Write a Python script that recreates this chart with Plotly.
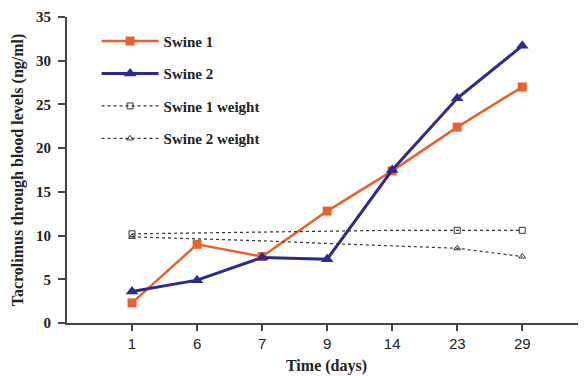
import plotly.graph_objects as go

days = ["1", "6", "7", "9", "14", "23", "29"]
swine1 = [2.3, 9.0, 7.6, 12.8, 17.4, 22.4, 27.0]
swine2 = [3.6, 4.9, 7.5, 7.3, 17.5, 25.7, 31.7]
swine1_weight = [10.2, 10.3, 10.4, 10.45, 10.6, 10.6, 10.6]
swine2_weight = [9.85, 9.65, 9.4, 9.1, 8.85, 8.55, 7.6]
weight_marked = [True, False, False, False, False, True, True]

ORANGE = "#E8612C"
BLUE = "#2D2A8E"
GREY = "#333333"

serif = "Liberation Serif"
sans = "Liberation Sans"

fig = go.Figure()
fig.add_trace(go.Scatter(
    x=days, y=swine1, name="Swine 1", mode="lines+markers",
    line=dict(color=ORANGE, width=2.5),
    marker=dict(symbol="square", size=9, color=ORANGE),
    legendgroup="a",
))
fig.add_trace(go.Scatter(
    x=days, y=swine2, name="Swine 2", mode="lines+markers",
    line=dict(color=BLUE, width=3),
    marker=dict(symbol="triangle-up", size=11, color=BLUE),
    legendgroup="b",
))
mc = [GREY if m else "rgba(0,0,0,0)" for m in weight_marked]
fig.add_trace(go.Scatter(
    x=days, y=swine1_weight, name="Swine 1 weight", mode="lines+markers",
    line=dict(color=GREY, width=1.2, dash="dot"),
    marker=dict(symbol="square-open", size=6, color=mc, line=dict(color=mc, width=1)),
    legendgroup="c",
))
fig.add_trace(go.Scatter(
    x=days, y=swine2_weight, name="Swine 2 weight", mode="lines+markers",
    line=dict(color=GREY, width=1.2, dash="dot"),
    marker=dict(symbol="triangle-up-open", size=6, color=mc, line=dict(color=mc, width=1)),
    legendgroup="d",
))

# the page body has an 8px default margin, so the figure is 8px smaller
fig.update_layout(
    width=578, height=368,
    margin=dict(l=59, r=0, t=9, b=53),
    paper_bgcolor="white", plot_bgcolor="white",
    showlegend=True,
    legend=dict(
        x=0.057, y=0.975, xanchor="left", yanchor="top",
        font=dict(family=serif, size=15, color="#222"),
        itemwidth=57, traceorder="grouped", tracegroupgap=10,
        bgcolor="rgba(0,0,0,0)",
    ),
    xaxis=dict(
        type="category", range=[-1, 6.98],
        showgrid=False, zeroline=False,
        showline=True, linecolor="#444", linewidth=2,
        ticks="outside", ticklen=6, tickwidth=1.5, tickcolor="#444",
        tickfont=dict(family=sans, size=15, color="#222"),
        title=dict(text="<b>Time (days)</b>", font=dict(family=serif, size=16, color="#222"), standoff=9),
    ),
    yaxis=dict(
        range=[0, 35], dtick=5,
        showgrid=False, zeroline=False,
        showline=True, linecolor="#444", linewidth=2,
        ticks="outside", ticklen=7, tickwidth=1.5, tickcolor="#444",
        ticklabelstandoff=4,
        tickfont=dict(family=serif, size=15, color="#222", weight="bold"),
        title=dict(text="<b>Tacrolimus through blood levels (ng/ml)</b>", font=dict(family=serif, size=16, color="#222"), standoff=8),
    ),
)
fig.for_each_trace(lambda t: t.update(name="<b>" + t.name + "</b>"))

fig.write_html("out.html")
